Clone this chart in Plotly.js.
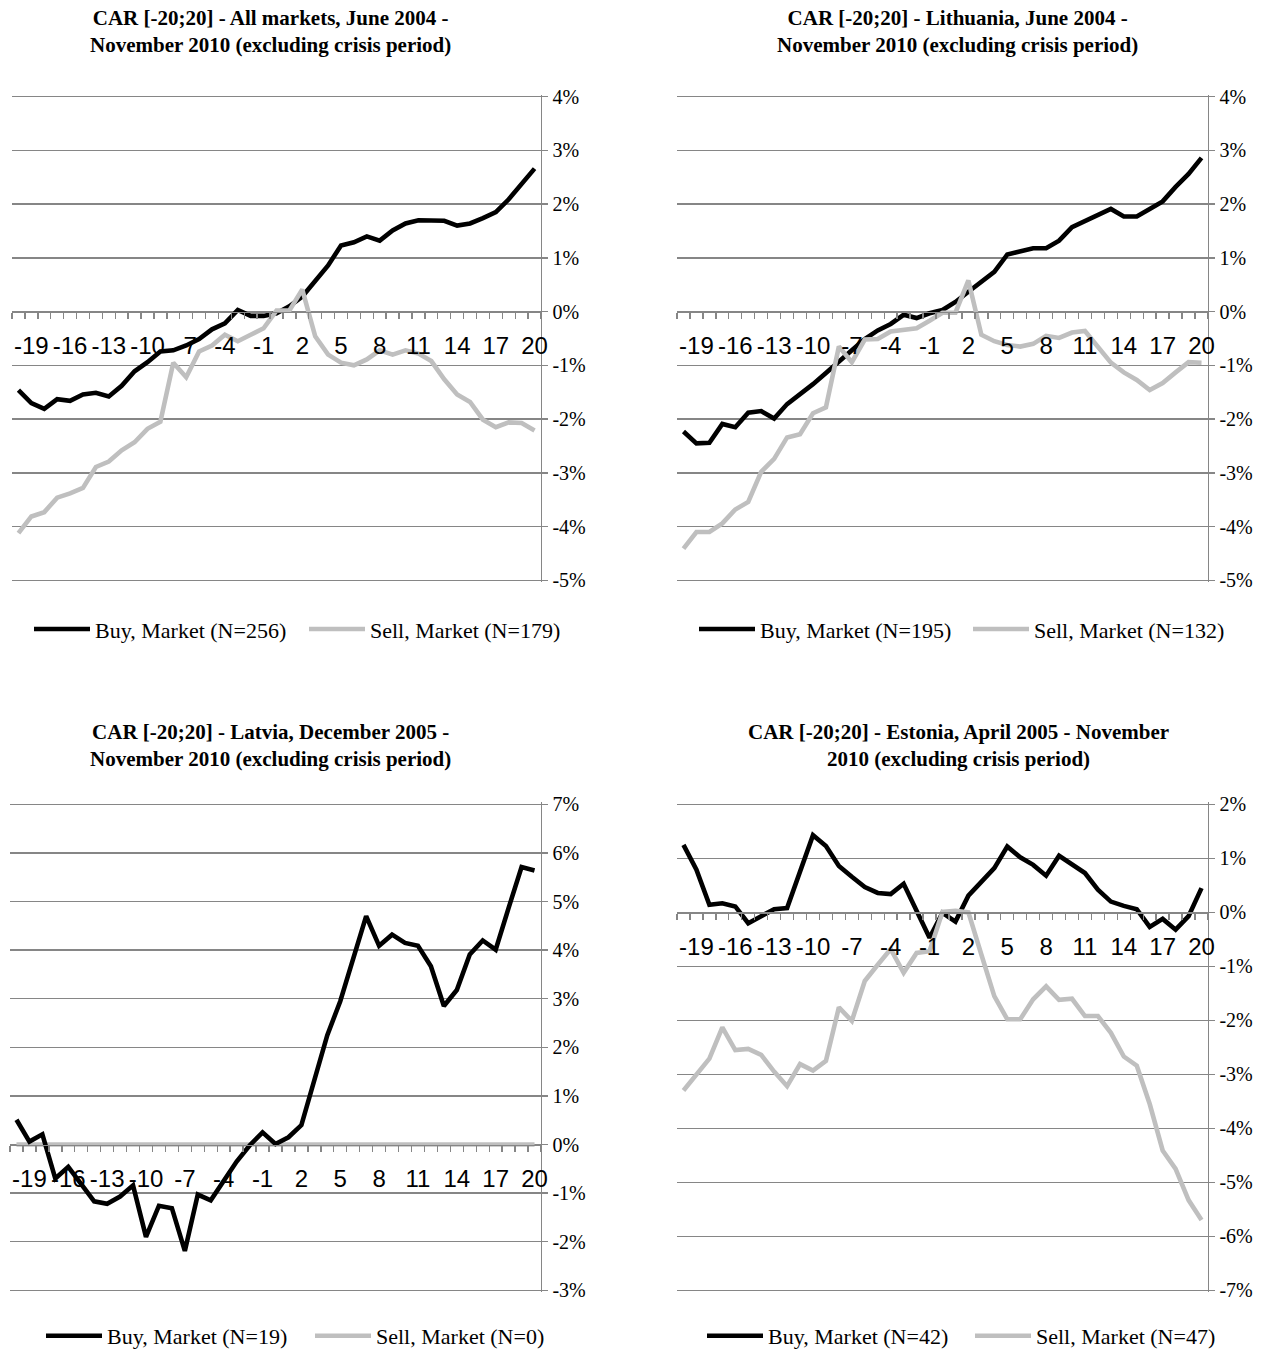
<!DOCTYPE html>
<html>
<head>
<meta charset="utf-8">
<script src="https://cdn.plot.ly/plotly-3.0.1.min.js"></script>
<style>
  html, body { margin: 0; padding: 0; background: #fff; }
  #chart { width: 1271px; height: 1357px; }
</style>
</head>
<body>
<div id="chart"></div>
<script>
// Event days of the window [-20;20]
const days = [-20,-19,-18,-17,-16,-15,-14,-13,-12,-11,-10,-9,-8,-7,-6,-5,-4,-3,-2,-1,
              0,1,2,3,4,5,6,7,8,9,10,11,12,13,14,15,16,17,18,19,20];
const dayLabels = [-19,-16,-13,-10,-7,-4,-1,2,5,8,11,14,17,20];

// Cumulative abnormal returns, in percent
const allBuy = [-1.46,-1.70,-1.81,-1.63,-1.66,-1.54,-1.51,-1.58,-1.38,-1.11,-0.94,-0.74,-0.72,-0.63,-0.51,-0.33,-0.22,0.03,-0.08,-0.08,
                -0.03,0.10,0.28,0.58,0.86,1.23,1.29,1.40,1.32,1.51,1.64,1.70,1.70,1.69,1.60,1.64,1.74,1.85,2.09,2.37,2.66];
const allSell = [-4.12,-3.81,-3.73,-3.46,-3.38,-3.28,-2.89,-2.79,-2.58,-2.43,-2.18,-2.05,-0.95,-1.22,-0.74,-0.63,-0.43,-0.55,-0.43,-0.31,
                 0.02,0.02,0.41,-0.46,-0.80,-0.95,-1.00,-0.89,-0.72,-0.80,-0.72,-0.78,-0.92,-1.26,-1.54,-1.68,-2.01,-2.15,-2.06,-2.07,-2.21];

const ltBuy = [-2.23,-2.45,-2.44,-2.09,-2.15,-1.88,-1.85,-1.99,-1.72,-1.54,-1.35,-1.14,-0.94,-0.72,-0.51,-0.35,-0.23,-0.06,-0.12,-0.03,
               0.03,0.18,0.37,0.55,0.74,1.06,1.11,1.18,1.18,1.32,1.57,1.69,1.80,1.91,1.77,1.77,1.91,2.05,2.32,2.56,2.86];
const ltSell = [-4.41,-4.10,-4.10,-3.94,-3.68,-3.54,-2.98,-2.74,-2.34,-2.28,-1.89,-1.78,-0.65,-0.94,-0.52,-0.51,-0.37,-0.34,-0.31,-0.17,
                -0.02,-0.02,0.58,-0.43,-0.55,-0.62,-0.65,-0.60,-0.45,-0.49,-0.39,-0.36,-0.65,-0.95,-1.13,-1.27,-1.46,-1.33,-1.13,-0.94,-0.95];

const lvBuy = [0.51,0.06,0.21,-0.70,-0.46,-0.81,-1.17,-1.22,-1.07,-0.84,-1.90,-1.26,-1.31,-2.19,-1.03,-1.15,-0.76,-0.35,-0.02,0.25,
               0.01,0.15,0.40,1.31,2.25,2.95,3.81,4.70,4.09,4.32,4.15,4.09,3.67,2.85,3.18,3.91,4.20,4.01,4.87,5.71,5.64];
const lvSell = [0,0,0,0,0,0,0,0,0,0,0,0,0,0,0,0,0,0,0,0,
                0,0,0,0,0,0,0,0,0,0,0,0,0,0,0,0,0,0,0,0,0];

const eeBuy = [1.25,0.79,0.14,0.17,0.11,-0.20,-0.07,0.06,0.08,0.76,1.43,1.23,0.86,0.66,0.47,0.36,0.34,0.53,0.02,-0.47,
               -0.01,-0.17,0.31,0.57,0.82,1.22,1.02,0.88,0.68,1.05,0.88,0.73,0.42,0.20,0.12,0.06,-0.27,-0.12,-0.32,-0.07,0.45];
const eeSell = [-3.30,-3.01,-2.71,-2.13,-2.55,-2.53,-2.64,-2.95,-3.22,-2.81,-2.93,-2.75,-1.76,-2.01,-1.27,-0.97,-0.68,-1.12,-0.75,-0.72,
                0.01,0.03,0.00,-0.78,-1.55,-1.98,-1.98,-1.61,-1.37,-1.62,-1.60,-1.92,-1.92,-2.23,-2.67,-2.84,-3.55,-4.41,-4.75,-5.33,-5.70];

const titles = [
  'CAR [-20;20] - All markets, June 2004 -<br>November 2010 (excluding crisis period)',
  'CAR [-20;20] - Lithuania, June 2004 -<br>November 2010 (excluding crisis period)',
  'CAR [-20;20] - Latvia, December 2005 -<br>November 2010 (excluding crisis period)',
  'CAR [-20;20] - Estonia, April 2005 - November<br>2010 (excluding crisis period)'
];
const buyNames = ['Buy, Market (N=256)', 'Buy, Market (N=195)', 'Buy, Market (N=19)', 'Buy, Market (N=42)'];
const sellNames = ['Sell, Market (N=179)', 'Sell, Market (N=132)', 'Sell, Market (N=0)', 'Sell, Market (N=47)'];
const yRanges = [[-5, 4], [-5, 4], [-3, 7], [-7, 2]];

// ---- layout geometry (pixels on a 1271 x 1357 page) ----
const W = 1271, H = 1357;
const panels = [
  { x0: 12,  x1: 541,  top: 97,  bottom: 583,  titleX: 270, titleY: 32,  legX: 36,  legY: 632,  legStep: 278 },
  { x0: 677, x1: 1208, top: 97,  bottom: 583,  titleX: 957, titleY: 32,  legX: 701, legY: 632,  legStep: 277 },
  { x0: 10,  x1: 541,  top: 808, bottom: 1296, titleX: 270, titleY: 749, legX: 48,  legY: 1342, legStep: 272 },
  { x0: 677, x1: 1208, top: 808, bottom: 1296, titleX: 958, titleY: 749, legX: 709, legY: 1342, legStep: 271 }
];
const buySeries = [allBuy, ltBuy, lvBuy, eeBuy];
const sellSeries = [allSell, ltSell, lvSell, eeSell];

const GRID = '#868686';
const BUY_COLOR = '#000000';
const SELL_COLOR = '#bfbfbf';
const SERIF = 'Liberation Serif, Times New Roman, serif';
const ITEM_W = 56;
const EDGE = 0.004; // small range padding so the outermost gridlines stay visible

// percent labels with a plain hyphen for negatives
function pctLabels(r) {
  const vals = [], text = [];
  for (let v = r[0]; v <= r[1]; v++) { vals.push(v); text.push(String(v) + '%'); }
  return { vals, text };
}

const traces = [];
const layout = {
  width: W, height: H,
  margin: { l: 0, r: 0, t: 0, b: 0 },
  paper_bgcolor: '#ffffff',
  plot_bgcolor: '#ffffff',
  showlegend: true,
  annotations: []
};

panels.forEach((p, i) => {
  const n = i === 0 ? '' : String(i + 1);
  const xa = 'x' + n, ya = 'y' + n;
  const legName = 'legend' + n;
  const padPx = EDGE * (p.bottom - p.top);
  const yDom = [1 - (p.bottom + padPx) / H, 1 - (p.top - padPx) / H];
  const r = yRanges[i];
  const pad = EDGE * (r[1] - r[0]);
  const rr = [r[0] - pad, r[1] + pad];
  const zeroPos = yDom[0] + (0 - rr[0]) / (rr[1] - rr[0]) * (yDom[1] - yDom[0]);
  const yl = pctLabels(r);

  const buy = {
    x: days, y: buySeries[i], xaxis: xa, yaxis: ya, type: 'scatter', mode: 'lines',
    name: buyNames[i], legend: legName, legendrank: 1,
    legendwidth: p.legStep - ITEM_W - 18,
    line: { color: BUY_COLOR, width: 4.6, shape: 'linear' }, hoverinfo: 'skip'
  };
  const sell = {
    x: days, y: sellSeries[i], xaxis: xa, yaxis: ya, type: 'scatter', mode: 'lines',
    name: sellNames[i], legend: legName, legendrank: 2,
    line: { color: SELL_COLOR, width: 4.6, shape: 'linear' }, hoverinfo: 'skip'
  };
  // Latvia: buy line sits over the flat sell line
  if (i === 2) { traces.push(sell, buy); } else { traces.push(buy, sell); }

  layout['xaxis' + n] = {
    domain: [p.x0 / W, p.x1 / W],
    anchor: 'free', position: zeroPos,
    range: [-20.5, 20.5],
    showgrid: false, zeroline: false,
    showline: true, linecolor: GRID, linewidth: 1.4,
    tickmode: 'array', tickvals: dayLabels, ticktext: dayLabels.map(String),
    ticks: '', ticklabelstandoff: 12,
    tickfont: { family: 'Liberation Sans, Arial, sans-serif', size: 24, color: '#000' },
    minor: { ticks: 'outside', tickmode: 'linear', tick0: 0.5, dtick: 1, ticklen: 6, tickcolor: GRID, tickwidth: 1.4, showgrid: false },
    fixedrange: true
  };
  layout['yaxis' + n] = {
    domain: yDom,
    anchor: xa, side: 'right',
    range: rr,
    tickmode: 'array', tickvals: yl.vals, ticktext: yl.text,
    showgrid: true, gridcolor: GRID, gridwidth: 1.4,
    zeroline: false,
    showline: true, linecolor: GRID, linewidth: 1.4,
    ticks: 'outside', ticklen: 6, tickcolor: GRID, tickwidth: 1.4,
    tickfont: { family: SERIF, size: 20, color: '#000' },
    fixedrange: true
  };
  layout[legName] = {
    orientation: 'h',
    x: (p.legX - 7) / W, xanchor: 'left',
    y: 1 - p.legY / H, yanchor: 'middle',
    font: { family: SERIF, size: 22, color: '#000' },
    itemwidth: ITEM_W,
    bgcolor: 'rgba(0,0,0,0)',
    traceorder: 'normal'
  };
  layout.annotations.push({
    xref: 'paper', yref: 'paper',
    x: p.titleX / W, y: 1 - p.titleY / H,
    xanchor: 'center', yanchor: 'middle',
    text: titles[i], showarrow: false, align: 'center',
    font: { family: SERIF, size: 21, color: '#000', weight: 'bold' }
  });
});

Plotly.newPlot('chart', traces, layout, { staticPlot: true, displayModeBar: false });
</script>
</body>
</html>
